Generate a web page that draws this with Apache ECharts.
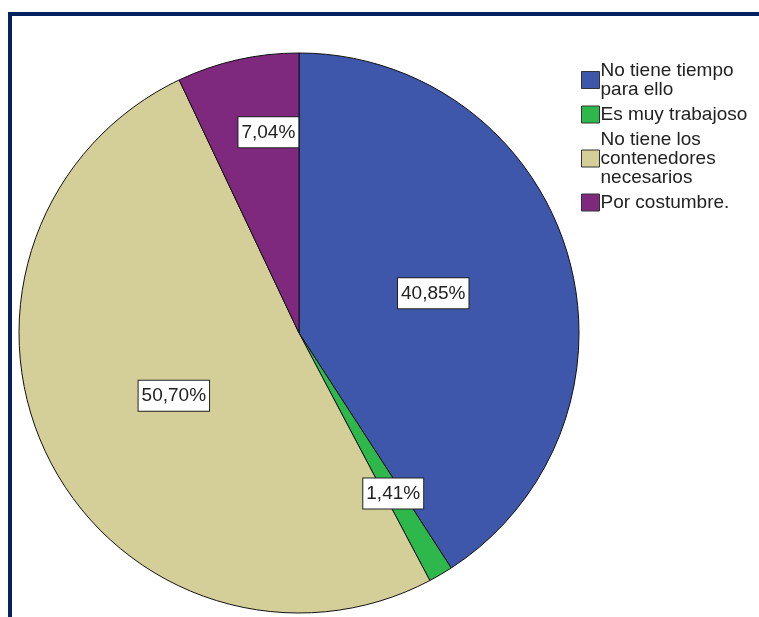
<!DOCTYPE html>
<html><head><meta charset="utf-8">
<script src="https://cdn.jsdelivr.net/npm/echarts@6/dist/echarts.min.js"></script>
<style>html,body{margin:0;padding:0;background:#fff}#c{width:759px;height:617px}</style>
</head><body><div id="c"></div>
<script>
const categories = ['No tiene tiempo\npara ello', 'Es muy trabajoso', 'No tiene los\ncontenedores\nnecesarios', 'Por costumbre.'];
const values = [40.85, 1.41, 50.70, 7.04];
const labelTexts = ['40,85%', '1,41%', '50,70%', '7,04%'];
const colors = ['#3e57aa', '#2eb84b', '#d4cf99', '#7e297e'];
const labelRadiusFrac = [0.5, 0.665, 0.5, 0.725];
const labelAngleShift = [0, 0, 0, 4];

const FONT = '"Liberation Sans", Arial, sans-serif';
const CX = 299, CY = 333, R = 280;
const chart = echarts.init(document.getElementById('c'), null, {renderer: 'canvas'});
chart.setOption({
  backgroundColor: '#fff',
  animation: false,
  color: colors,
  graphic: [
    {type: 'line', shape: {x1: 10, y1: 14, x2: 759, y2: 14}, style: {stroke: '#06215f', lineWidth: 4}},
    {type: 'line', shape: {x1: 10, y1: 12, x2: 10, y2: 617}, style: {stroke: '#06215f', lineWidth: 4}}
  ],
  legend: {
    orient: 'vertical',
    left: 576, top: 56,
    itemWidth: 18, itemHeight: 17,
    itemGap: 6,
    icon: 'rect',
    itemStyle: {borderColor: '#333', borderWidth: 1},
    textStyle: {fontFamily: FONT, fontSize: 19, color: '#222', lineHeight: 19, padding: [0,0,0,-4]},
    data: categories
  },
  series: [{
    type: 'pie',
    center: [CX, CY],
    radius: [0, R],
    startAngle: 90,
    clockwise: true,
    silent: true,
    itemStyle: {borderColor: '#111', borderWidth: 1},
    label: {
      show: true,
      position: 'inside',
      formatter: p => labelTexts[p.dataIndex],
      fontFamily: FONT,
      fontSize: 19,
      lineHeight: 20,
      color: '#222',
      backgroundColor: '#fff',
      borderColor: '#222',
      borderWidth: 1,
      padding: [5, 3, 5, 3]
    },
    labelLine: {show: false},
    labelLayout: function (p) {
      const r = p.labelRect;
      const cx = r.x + r.width / 2, cy = r.y + r.height / 2;
      const ang = Math.atan2(cy - CY, cx - CX) + labelAngleShift[p.dataIndex] * Math.PI / 180;
      const rad = R * labelRadiusFrac[p.dataIndex];
      return {dx: CX + rad * Math.cos(ang) - cx, dy: CY + rad * Math.sin(ang) - cy};
    },
    data: categories.map((n, i) => ({name: n, value: values[i]}))
  }]
});
</script></body></html>
